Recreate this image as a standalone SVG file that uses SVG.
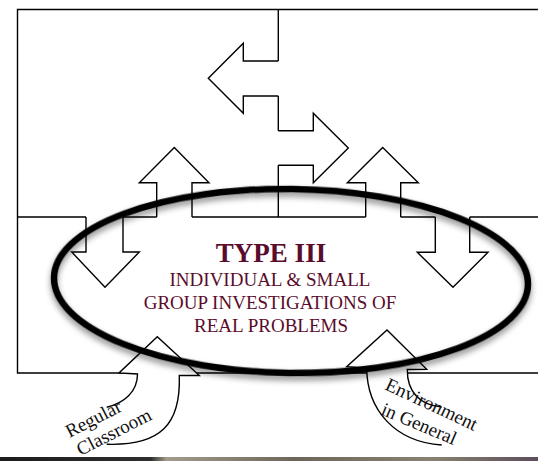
<svg xmlns="http://www.w3.org/2000/svg" width="538" height="461" viewBox="0 0 538 461">
  <style>
    .edge { fill: none; stroke: #000; stroke-width: 1.4; stroke-linejoin: miter; }
    .blk { fill: #fff; stroke: none; }
    .oval { fill: none; stroke: #000; stroke-width: 6.5; }
    .t3 { font-family: "Liberation Serif", "Times New Roman", serif; fill: #5a0c2c; text-anchor: middle; }
    .lbl { font-family: "Liberation Serif", "Times New Roman", serif; font-size: 19px; fill: #111; }
  </style>
  <defs>
    <filter id="soft" x="-10%" y="-20%" width="120%" height="150%">
      <feDropShadow dx="0" dy="4" stdDeviation="3" flood-color="#000" flood-opacity="0.45"/>
    </filter>
    <linearGradient id="strip" x1="0" y1="0" x2="1" y2="0">
      <stop offset="0" stop-color="#1c1c1c"/>
      <stop offset="0.28" stop-color="#2e2e2e"/>
      <stop offset="0.31" stop-color="#a29c8c"/>
      <stop offset="0.55" stop-color="#6c665a"/>
      <stop offset="0.8" stop-color="#8a8270"/>
      <stop offset="1" stop-color="#5c4e5c"/>
    </linearGradient>
  </defs>

  <rect width="538" height="461" fill="#fff"/>

  <!-- box outlines: Type I (top left), Type II (top right), Type III area (bottom) -->
  <g id="type1-box">
    <path class="edge" d="M278.3,9.5 H17.5 V217"/>
  </g>
  <g id="type2-box">
    <path class="edge" d="M278.3,9.5 H545 M278.3,9.5 V217"/>
  </g>
  <g id="type3-box">
    <path class="edge" d="M17.5,217 H545 M17.5,217 V373 H545"/>
  </g>

  <!-- block arrows between the areas -->
  <g id="connectors">
    <!-- Type II to Type I -->
    <path class="blk" d="M280,61 H243.3 V43.3 L208.3,78.3 L243.3,113.3 V96 H280 Z"/>
    <path class="edge" d="M278.3,61 H243.3 V43.3 L208.3,78.3 L243.3,113.3 V96 H278.3"/>
    <!-- Type I to Type II -->
    <path class="blk" d="M276.5,130.7 H313.3 V113.3 L348.3,148 L313.3,182.7 V165.3 H276.5 Z"/>
    <path class="edge" d="M278.3,130.7 H313.3 V113.3 L348.3,148 L313.3,182.7 V165.3 H278.3"/>
    <!-- Type III up to Type I -->
    <path class="blk" d="M156.7,219 V182.7 H139.3 L174.3,147.5 L209,182.7 H192 V219 Z"/>
    <path class="edge" d="M156.7,217 V182.7 H139.3 L174.3,147.5 L209,182.7 H192 V217"/>
    <!-- Type III up to Type II -->
    <path class="blk" d="M365.7,219 V182.7 H347.3 L382.7,147.5 L418.3,182.7 H400.7 V219 Z"/>
    <path class="edge" d="M365.7,217 V182.7 H347.3 L382.7,147.5 L418.3,182.7 H400.7 V217"/>
    <!-- Type I down to Type III -->
    <path class="blk" d="M86,215 V252 H71.7 L105,287.3 L139.3,252 H123 V215 Z"/>
    <path class="edge" d="M86,217 V252 H71.7 L105,287.3 L139.3,252 H123 V217"/>
    <!-- Type II down to Type III -->
    <path class="blk" d="M435.3,215 V252.3 H417.3 L453,287.3 L488,252.3 H469.7 V215 Z"/>
    <path class="edge" d="M435.3,217 V252.3 H417.3 L453,287.3 L488,252.3 H469.7 V217"/>
    <!-- curved arrow from the regular classroom -->
    <path class="blk" d="M106.7,407.3 C124,403 137.5,392 137.5,374 L119,373 L157.3,336.7 L199.3,375.5 L179.3,375.5 C181,425 160,446 106.7,444.3 Z"/>
    <path class="edge" d="M106.7,407.3 C124,403 137.5,392 137.5,374 L119,373 L157.3,336.7 L199.3,375.5 L179.3,375.5 C181,425 160,446 106.7,444.3"/>
    <!-- curved arrow from the environment in general -->
    <path class="blk" d="M441.7,407 C420,405 407,392 407.3,369.5 L426.7,369.3 L387,330 L346.7,366.7 L366.7,368 C367,410 395,442 441.7,445 Z"/>
    <path class="edge" d="M441.7,407 C420,405 407,392 407.3,369.5 L426.7,369.3 L387,330 L346.7,366.7 L366.7,368 C367,410 395,442 441.7,445"/>
  </g>

  <!-- Type III oval -->
  <g id="type3">
    <ellipse class="oval" cx="291" cy="281" rx="237" ry="92" transform="rotate(0.8 291 281)" filter="url(#soft)"/>
    <text class="t3" x="271" y="262" font-size="27" font-weight="bold">TYPE III</text>
    <text class="t3" x="270" y="285.5" font-size="19">INDIVIDUAL &amp; SMALL</text>
    <text class="t3" x="270" y="308.5" font-size="19">GROUP INVESTIGATIONS OF</text>
    <text class="t3" x="271" y="331.5" font-size="19">REAL PROBLEMS</text>
  </g>

  <g id="regular-classroom">
    <text class="lbl" transform="translate(69.5,438) rotate(-27)">Regular</text>
    <text class="lbl" transform="translate(80.5,456) rotate(-27)">Classroom</text>
  </g>

  <g id="environment">
    <text class="lbl" font-size="20" transform="translate(384,389) rotate(25)">Environment</text>
    <text class="lbl" transform="translate(380,414) rotate(23)">in General</text>
  </g>

  <!-- strip along the bottom edge -->
  <rect x="0" y="457" width="538" height="4" fill="url(#strip)"/>
</svg>
